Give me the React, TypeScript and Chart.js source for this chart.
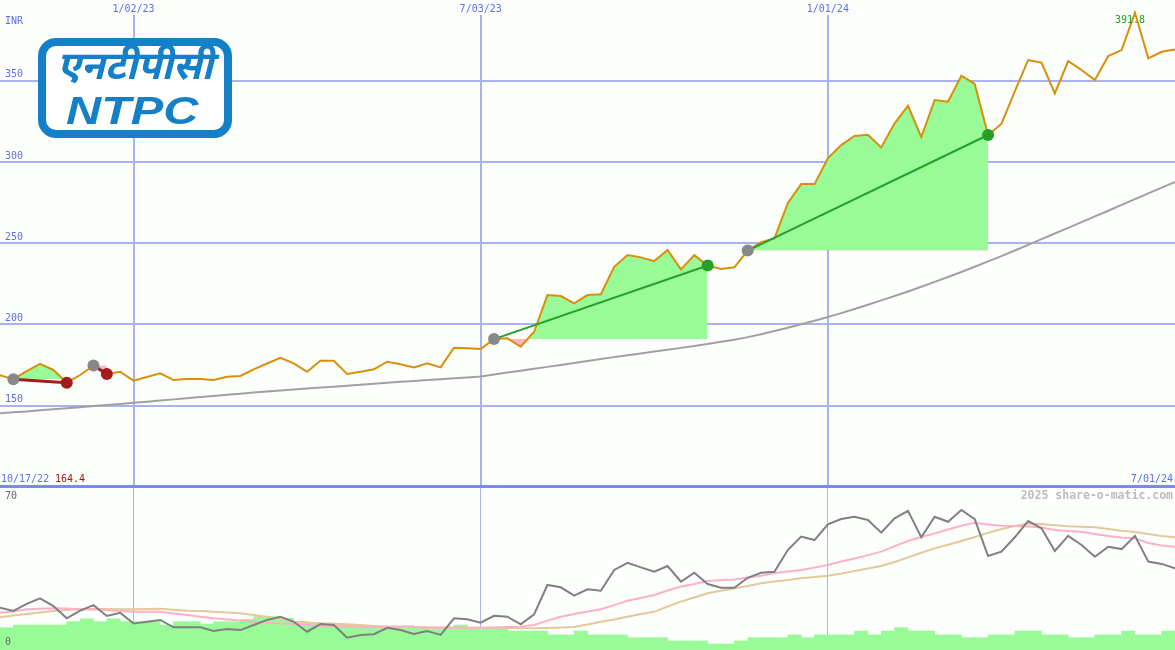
import React, { useEffect, useRef } from 'react';
import { Chart, registerables } from 'chart.js';

Chart.register(...registerables);

// ---------- data (weekly, week 0 = 10/17/22) ----------
const X_MIN = 1;
const X_MAX = 89;
const DATE_TICK_WEEKS = [11, 37, 63];
const DATE_TICK_LABELS = ['1/02/23', '7/03/23', '1/01/24'];
const START_LABEL = '10/17/22';
const END_LABEL = '7/01/24';
const CURRENCY = 'INR';
const PRICE_TICKS = [150, 200, 250, 300, 350];
const OSC_TICKS = [0, 70];
const WATERMARK = '2025 share-o-matic.com';

// closing price, weeks 0..89
const PRICE = [
  164.4,
  168.7, 166.3, 171.3, 175.7, 172.0, 164.2, 168.9, 174.7, 169.5, 170.9,
  165.4, 167.7, 169.9, 165.8, 166.4, 166.4, 165.8, 167.8, 168.3, 172.4,
  176.0, 179.5, 176.1, 170.9, 177.7, 177.7, 169.5, 170.9, 172.4, 177.1,
  175.5, 173.6, 176.1, 173.6, 185.7, 185.3, 184.9, 191.0, 191.5, 186.3,
  195.5, 218.1, 217.5, 213.0, 218.1, 218.6, 235.5, 242.7, 241.3, 239.0,
  245.8, 233.9, 242.7, 236.3, 234.1, 235.2, 245.5, 250.7, 253.0, 274.6,
  286.4, 286.4, 302.2, 310.4, 316.0, 316.8, 309.0, 323.8, 334.6, 315.4,
  338.1, 337.1, 353.1, 348.0, 316.6, 323.4, 343.5, 362.7, 361.1, 342.2,
  362.1, 356.6, 350.4, 365.2, 368.9, 391.8, 363.8, 367.8, 369.3,
];

// long moving average, weeks 1..89
const SMA = [
  145.3, 145.9, 146.5, 147.2, 147.8, 148.5, 149.1, 149.8, 150.4, 151.1,
  151.8, 152.5, 153.2, 153.9, 154.6, 155.3, 156.0, 156.7, 157.4, 158.1,
  158.8, 159.4, 160.0, 160.6, 161.2, 161.7, 162.3, 162.9, 163.5, 164.1,
  164.7, 165.2, 165.8, 166.3, 166.9, 167.4, 168.0, 169.2, 170.4, 171.5,
  172.7, 173.9, 175.1, 176.3, 177.5, 178.7, 179.9, 181.0, 182.2, 183.3,
  184.4, 185.6, 186.8, 188.0, 189.3, 190.6, 192.2, 194.0, 196.0, 198.0,
  200.1, 202.3, 204.6, 207.0, 209.5, 212.1, 214.8, 217.5, 220.3, 223.2,
  226.2, 229.2, 232.3, 235.5, 238.8, 242.1, 245.5, 249.0, 252.5, 256.0,
  259.5, 263.0, 266.5, 270.0, 273.6, 277.1, 280.7, 284.2, 287.8,
];

// oscillator, weeks 1..89
const OSC = [
  18.3, 16.9, 19.9, 22.3, 19.0, 13.7, 17.0, 19.4, 14.7, 16.1,
  11.5, 12.2, 13.0, 9.8, 9.8, 9.8, 8.2, 9.1, 8.6, 10.8,
  13.0, 14.4, 12.2, 7.9, 11.2, 10.8, 5.3, 6.5, 6.8, 9.6,
  8.6, 6.9, 8.2, 6.5, 13.7, 13.3, 11.8, 14.8, 14.4, 11.1,
  15.4, 28.1, 27.1, 23.5, 26.2, 25.6, 34.6, 37.7, 35.7, 33.8,
  36.3, 29.5, 33.4, 28.5, 26.9, 26.9, 31.2, 33.4, 33.8, 43.2,
  49.0, 47.5, 54.3, 56.6, 57.6, 56.2, 50.7, 56.9, 60.1, 48.7,
  57.6, 55.4, 60.5, 56.5, 40.6, 42.5, 48.7, 55.7, 52.6, 42.8,
  49.3, 45.4, 40.3, 44.6, 43.6, 49.3, 38.2, 37.2, 35.3,
];

// fast average of oscillator, weeks 1..89
const OSC_FAST = [
  16.1, 16.6, 17.6, 17.8, 18.0, 17.9, 17.6, 17.5, 17.3, 16.9,
  16.5, 16.5, 16.5, 15.8, 15.1, 14.4, 13.7, 13.2, 12.7, 12.2,
  11.8, 11.5, 11.2, 10.8, 10.4, 10.2, 10.1, 9.9, 9.8, 9.9,
  10.1, 9.9, 9.6, 9.6, 9.6, 9.6, 9.6, 9.7, 9.9, 10.1,
  10.8, 12.7, 14.4, 15.6, 16.6, 17.6, 19.4, 21.3, 22.5, 23.8,
  25.7, 27.4, 28.5, 29.8, 30.2, 30.5, 31.3, 32.1, 33.3, 33.9,
  34.6, 35.6, 36.7, 38.2, 39.5, 41.0, 42.5, 44.9, 47.1, 48.8,
  50.4, 52.1, 53.7, 55.0, 54.2, 53.7, 53.6, 53.4, 52.9, 51.9,
  51.4, 51.1, 50.1, 49.3, 48.6, 48.3, 46.2, 45.2, 44.6,
];

// slow average of oscillator, weeks 1..89
const OSC_SLOW = [
  14.1, 14.9, 15.6, 16.2, 16.9, 17.3, 17.6, 17.7, 17.7, 17.6,
  17.6, 17.7, 17.8, 17.4, 17.0, 16.8, 16.5, 16.2, 15.9, 15.1,
  14.4, 13.4, 12.2, 11.9, 11.5, 11.3, 11.1, 10.8, 10.4, 10.2,
  10.1, 9.9, 9.8, 9.7, 9.7, 9.6, 9.6, 9.6, 9.5, 9.4,
  9.4, 9.5, 9.7, 9.9, 11.0, 12.2, 13.2, 14.4, 15.6, 16.5,
  18.8, 20.9, 22.7, 24.5, 25.6, 26.7, 27.7, 28.8, 29.6, 30.2,
  31.0, 31.5, 32.1, 33.0, 34.1, 35.2, 36.3, 38.0, 40.0, 42.0,
  43.9, 45.5, 47.1, 48.8, 50.6, 52.3, 53.6, 54.7, 54.4, 53.9,
  53.5, 53.3, 53.0, 52.3, 51.5, 51.0, 50.1, 49.3, 48.7,
];

// weekly volume (millions), weeks 2..89
const VOLUME = [
  13.8, 15.4, 15.4, 15.4, 15.4, 17.5, 19.3, 17.5, 19.3, 17.5,
  17.5, 17.5, 15.4, 17.5, 17.5, 16.0, 17.5, 17.5, 18.9, 20.6,
  20.6, 19.6, 17.5, 16.7, 16.7, 15.4, 15.4, 14.5, 14.8, 14.4,
  15.0, 13.4, 13.4, 13.4, 15.4, 13.0, 13.0, 13.0, 11.7, 11.7,
  11.7, 9.3, 9.3, 11.7, 9.3, 9.3, 9.3, 7.6, 7.6, 7.6,
  5.6, 5.6, 5.6, 3.7, 3.7, 5.6, 7.6, 7.6, 7.6, 9.3,
  7.6, 9.3, 9.3, 9.3, 11.7, 9.3, 11.7, 13.8, 11.7, 11.7,
  9.3, 9.3, 7.6, 7.6, 9.3, 9.3, 11.7, 11.7, 9.3, 9.3,
  7.6, 7.6, 9.3, 9.3, 11.7, 9.3, 9.3, 11.7,
];

// trades (week numbers)
const TRADE_ENTRY = [2, 8, 38, 57];
const TRADE_EXIT = [6, 9, 54, 75];

// ---------- styles ----------
const BG = '#fcfffc';
const BLUE_TEXT = '#5c6ef0';
const GRID = '#a8b2f0';
const SEPARATOR = '#7a8ae8';
const PRICE_COLOR = '#d8900a';
const SMA_COLOR = '#a0a0a0';
const FILL_UP = '#98fb98';
const FILL_DOWN = '#ffb6c1';
const WIN = '#26a026';
const LOSS = '#a31c1c';
const ENTRY_COLOR = '#888888';
const MONO = '"DejaVu Sans Mono", monospace';
const LOGO_BLUE = '#1380c8';

const pts = (arr: number[], start: number) => arr.map((v, k) => ({ x: start + k, y: v }));

const topLabelsPlugin = {
  id: 'topLabels',
  afterDraw(chart: any) {
    const { ctx, scales } = chart;
    const x = scales.x;
    const y = scales.y;
    ctx.save();
    ctx.font = `10px ${MONO}`;
    ctx.textBaseline = 'middle';
    DATE_TICK_WEEKS.forEach((w, k) => {
      const px = x.getPixelForValue(w);
      ctx.fillStyle = BG;
      ctx.fillRect(px - 24, 0, 48, 15);
      ctx.fillStyle = BLUE_TEXT;
      ctx.textAlign = 'center';
      ctx.fillText(DATE_TICK_LABELS[k], px, 9);
    });
    ctx.textAlign = 'left';
    ctx.fillStyle = BLUE_TEXT;
    ctx.fillText(CURRENCY, 5, 21);
    PRICE_TICKS.forEach((v) => {
      ctx.fillText(String(v), 5, y.getPixelForValue(v) - 6);
    });
    const h = chart.height;
    ctx.fillText(START_LABEL, 1, h - 6);
    ctx.fillStyle = '#a01818';
    ctx.fillText(PRICE[0].toFixed(1), 55, h - 6);
    ctx.fillStyle = BLUE_TEXT;
    ctx.textAlign = 'right';
    ctx.fillText(END_LABEL, chart.width - 2, h - 6);
    // peak label
    const maxV = Math.max(...PRICE);
    const peakW = PRICE.indexOf(maxV);
    ctx.textAlign = 'center';
    ctx.fillStyle = '#22a022';
    ctx.fillText(maxV.toFixed(1), x.getPixelForValue(peakW) - 5, y.getPixelForValue(maxV) + 8);
    ctx.restore();
  },
};

const bottomLabelsPlugin = {
  id: 'bottomLabels',
  afterDraw(chart: any) {
    const { ctx, scales } = chart;
    const y2 = scales.y2;
    ctx.save();
    ctx.textBaseline = 'middle';
    ctx.font = `10px ${MONO}`;
    ctx.fillStyle = '#666666';
    ctx.textAlign = 'left';
    ctx.fillText(String(OSC_TICKS[1]), 5, y2.getPixelForValue(OSC_TICKS[1]) + 8);
    ctx.fillText(String(OSC_TICKS[0]), 5, y2.getPixelForValue(OSC_TICKS[0]) - 8);
    ctx.font = `bold 11.5px ${MONO}`;
    ctx.fillStyle = '#bcbcbc';
    ctx.textAlign = 'right';
    ctx.fillText(WATERMARK, chart.width - 2, 8);
    ctx.restore();
  },
};

export default function App() {
  const topRef = useRef<HTMLCanvasElement>(null);
  const botRef = useRef<HTMLCanvasElement>(null);

  useEffect(() => {
    document.body.style.margin = '0';
    const priceData = pts(PRICE, 0);

    const fills = TRADE_ENTRY.map((e, t) => {
      const xw = TRADE_EXIT[t];
      return {
        type: 'line',
        data: priceData.slice(e, xw + 1),
        borderWidth: 0,
        borderColor: 'rgba(0,0,0,0)',
        pointRadius: 0,
        fill: { target: { value: PRICE[e] }, above: FILL_UP, below: FILL_DOWN },
        order: 20,
      };
    });
    const tradeLines = TRADE_ENTRY.map((e, t) => {
      const xw = TRADE_EXIT[t];
      const win = PRICE[xw] >= PRICE[e];
      return {
        type: 'line',
        data: [priceData[e], priceData[xw]],
        borderColor: win ? WIN : LOSS,
        borderWidth: win ? 2 : 3,
        pointRadius: 0,
        fill: false,
        order: 3,
      };
    });

    const top = new Chart(topRef.current as HTMLCanvasElement, {
      type: 'line',
      data: {
        datasets: [
          {
            data: TRADE_EXIT.map((w) => priceData[w]),
            showLine: false,
            pointRadius: 6,
            pointBorderWidth: 0,
            pointBackgroundColor: TRADE_EXIT.map((w, t) => (PRICE[w] >= PRICE[TRADE_ENTRY[t]] ? WIN : LOSS)),
            order: 0,
          },
          {
            data: TRADE_ENTRY.map((w) => priceData[w]),
            showLine: false,
            pointRadius: 6,
            pointBorderWidth: 0,
            pointBackgroundColor: ENTRY_COLOR,
            order: 1,
          },
          ...tradeLines,
          {
            data: priceData,
            borderColor: PRICE_COLOR,
            borderWidth: 2,
            pointRadius: 0,
            fill: false,
            order: 4,
          },
          {
            data: pts(SMA, 1),
            borderColor: SMA_COLOR,
            borderWidth: 2,
            pointRadius: 0,
            fill: false,
            order: 5,
          },
          ...fills,
        ] as any,
      },
      options: {
        animation: false,
        responsive: false,
        events: [],
        layout: { padding: 0, autoPadding: false },
        elements: { line: { tension: 0 } },
        plugins: { legend: { display: false }, tooltip: { enabled: false } },
        scales: {
          x: {
            type: 'linear',
            min: X_MIN,
            max: X_MAX,
            position: 'top',
            afterBuildTicks: (s: any) => {
              s.ticks = DATE_TICK_WEEKS.map((v) => ({ value: v }));
            },
            ticks: { display: false },
            grid: { color: GRID, lineWidth: 2, drawTicks: false },
            border: { display: false },
          },
          y: {
            type: 'linear',
            min: 101.2,
            max: 399.7,
            afterBuildTicks: (s: any) => {
              s.ticks = PRICE_TICKS.map((v) => ({ value: v }));
            },
            ticks: { display: false },
            grid: { color: GRID, lineWidth: 2, drawTicks: false },
            border: { display: false },
          },
        },
      } as any,
      plugins: [topLabelsPlugin],
    });

    const bottom = new Chart(botRef.current as HTMLCanvasElement, {
      type: 'bar',
      data: {
        datasets: [
          {
            type: 'line',
            data: pts(OSC, 1),
            yAxisID: 'y2',
            borderColor: '#808080',
            borderWidth: 2,
            pointRadius: 0,
            order: 0,
          },
          {
            type: 'line',
            data: pts(OSC_FAST, 1),
            yAxisID: 'y2',
            borderColor: '#ffb0c8',
            borderWidth: 2,
            pointRadius: 0,
            order: 1,
          },
          {
            type: 'line',
            data: pts(OSC_SLOW, 1),
            yAxisID: 'y2',
            borderColor: '#e2c99a',
            borderWidth: 2,
            pointRadius: 0,
            order: 2,
          },
          {
            type: 'bar',
            data: VOLUME.map((v, j) => ({ x: j + 1.5, y: v })),
            yAxisID: 'yv',
            backgroundColor: FILL_UP,
            borderWidth: 0,
            barPercentage: 1,
            categoryPercentage: 1,
            order: 10,
          },
        ] as any,
      },
      options: {
        animation: false,
        responsive: false,
        events: [],
        layout: { padding: 0, autoPadding: false },
        elements: { line: { tension: 0 } },
        plugins: { legend: { display: false }, tooltip: { enabled: false } },
        scales: {
          x: {
            type: 'linear',
            min: X_MIN,
            max: X_MAX,
            offset: false,
            afterBuildTicks: (s: any) => {
              s.ticks = DATE_TICK_WEEKS.map((v) => ({ value: v }));
            },
            ticks: { display: false },
            grid: { color: GRID, lineWidth: 1, drawTicks: false, offset: false },
            border: { display: false },
          },
          y2: { type: 'linear', min: 0, max: 70, display: false },
          yv: { type: 'linear', min: 0, max: 100, display: false },
        },
      } as any,
      plugins: [bottomLabelsPlugin],
    });

    return () => {
      top.destroy();
      bottom.destroy();
    };
  }, []);

  return (
    <div
      style={{
        position: 'fixed',
        left: 0,
        top: 0,
        width: 1175,
        height: 650,
        background: BG,
        overflow: 'hidden',
      }}
    >
      <canvas ref={topRef} width={1175} height={485} style={{ position: 'absolute', left: 0, top: 0 }} />
      <div style={{ position: 'absolute', left: 0, top: 485, width: 1175, height: 3, background: SEPARATOR }} />
      <canvas ref={botRef} width={1175} height={162} style={{ position: 'absolute', left: 0, top: 488 }} />
      <div
        style={{
          position: 'absolute',
          left: 38,
          top: 38,
          width: 194,
          height: 100,
          boxSizing: 'border-box',
          border: `8px solid ${LOGO_BLUE}`,
          borderRadius: 18,
          background: '#ffffff',
        }}
      />
      <div
        style={{
          position: 'absolute',
          left: 48,
          top: 45,
          width: 174,
          textAlign: 'center',
          color: LOGO_BLUE,
          fontFamily: '"Noto Sans Devanagari", "Lohit Devanagari", "Noto Sans", sans-serif',
          fontWeight: 'bold',
          fontStyle: 'italic',
          fontSize: 39,
          lineHeight: '50px',
          whiteSpace: 'nowrap',
        }}
      >
        एनटीपीसी
      </div>
      <div
        style={{
          position: 'absolute',
          left: 66,
          top: 89,
          color: LOGO_BLUE,
          fontFamily: '"Liberation Sans", Arial, sans-serif',
          fontWeight: 'bold',
          fontStyle: 'italic',
          fontSize: 38,
          lineHeight: '44px',
          transform: 'scaleX(1.28)',
          transformOrigin: 'left top',
          whiteSpace: 'nowrap',
        }}
      >
        NTPC
      </div>
    </div>
  );
}
